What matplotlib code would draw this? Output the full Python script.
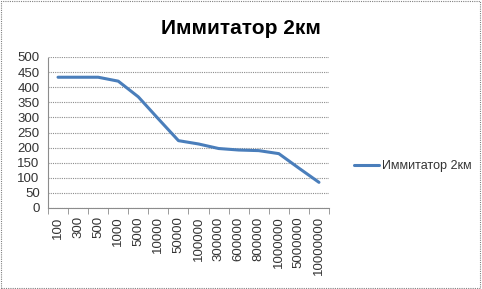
import numpy as np
import matplotlib.pyplot as plt
from matplotlib.patches import Rectangle

# data
categories = ['100', '300', '500', '1000', '5000', '10000', '50000', '100000',
              '300000', '600000', '800000', '1000000', '5000000', '10000000']
values = [433, 433, 433, 420, 368, 295, 223, 212, 197, 192, 190, 180, 132, 85]
series_name = 'Иммитатор 2км'

plt.rcParams['font.family'] = ['Liberation Sans', 'DejaVu Sans']

W, H = 482, 289
fig = plt.figure(figsize=(W / 100, H / 100), dpi=100)
ax = fig.add_axes([48 / W, 81 / H, (329 - 48) / W, (208 - 57) / H])

x = np.arange(len(categories))
ax.plot(x, values, color='#4a7ebb', lw=2.2, label=series_name, solid_capstyle='round')

ax.set_xlim(-0.5, len(categories) - 0.5)
ax.set_ylim(0, 500)
ax.set_yticks(np.arange(0, 501, 50))
ax.grid(axis='y', color='#8c8c8c', ls=(0, (1, 1)), lw=0.8)
ax.set_axisbelow(True)

ax.set_xticks(x)
ax.set_xticklabels(categories, rotation=90, fontsize=9.5, color='#333333')
ax.tick_params(axis='x', length=0, pad=6)
ax.set_xticks(np.arange(-0.5, len(categories)), minor=True)
ax.tick_params(axis='x', which='minor', length=4, color='#8c8c8c', direction='out')
ax.tick_params(axis='y', labelsize=9.5, length=0, pad=6, labelcolor='#333333')

for side in ['top', 'right']:
    ax.spines[side].set_visible(False)
for side in ['left', 'bottom']:
    ax.spines[side].set_color('#8c8c8c')
    ax.spines[side].set_linestyle((0, (1, 1)))
    ax.spines[side].set_linewidth(0.8)

fig.text(241 / W, 1 - 29 / H, series_name, ha='center', va='center',
         fontsize=15, fontweight='bold')

leg = fig.legend(loc='center left', bbox_to_anchor=(343 / W, 1 - 166 / H),
                 frameon=False, fontsize=9, handlelength=2.0, handletextpad=0.2)
for t in leg.get_texts():
    t.set_color('#333333')

# dotted outer border
fig.patches.append(Rectangle((0.002, 0.003), 0.994, 0.994, transform=fig.transFigure,
                             fill=False, ec='#808080', ls=(0, (1, 1)), lw=0.8))

fig.savefig('out.png', dpi=100)
